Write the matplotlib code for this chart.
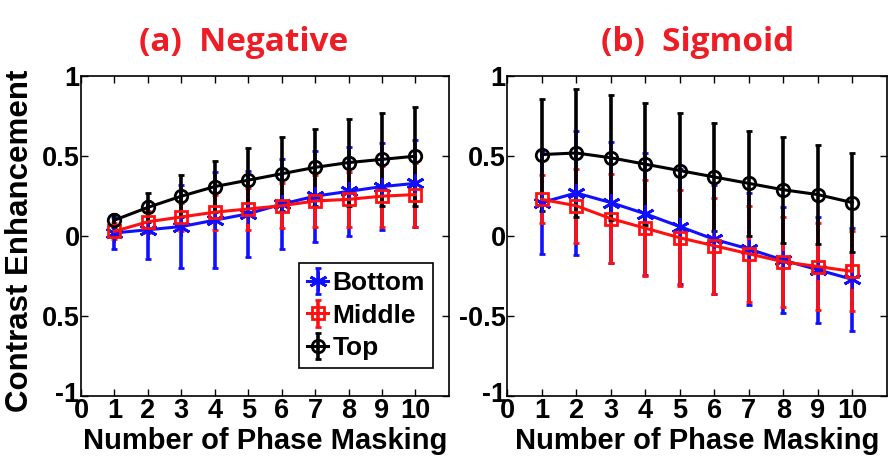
import numpy as np
import matplotlib
matplotlib.use("Agg")
import matplotlib.pyplot as plt
import matplotlib.transforms as mtransforms

# x positions (number of phase masking)
steps = [1, 2, 3, 4, 5, 6, 7, 8, 9, 10]

# (a) Negative
neg_bottom = [0.02, 0.04, 0.06, 0.10, 0.14, 0.20, 0.25, 0.28, 0.31, 0.33]
neg_bottom_err = [0.10, 0.18, 0.26, 0.30, 0.27, 0.28, 0.285, 0.28, 0.27, 0.27]
neg_middle = [0.03, 0.09, 0.12, 0.15, 0.17, 0.19, 0.22, 0.23, 0.25, 0.26]
neg_middle_err = [0.05, 0.07, 0.09, 0.11, 0.13, 0.14, 0.16, 0.17, 0.19, 0.20]
neg_top = [0.10, 0.18, 0.25, 0.31, 0.35, 0.39, 0.43, 0.46, 0.48, 0.50]
neg_top_err = [0.04, 0.09, 0.13, 0.16, 0.20, 0.23, 0.24, 0.27, 0.29, 0.31]

# (b) Sigmoid
sig_bottom = [0.21, 0.27, 0.21, 0.14, 0.06, -0.02, -0.08, -0.15, -0.21, -0.27]
sig_bottom_err = [0.32, 0.39, 0.38, 0.38, 0.36, 0.34, 0.35, 0.33, 0.33, 0.32]
sig_middle = [0.23, 0.19, 0.11, 0.05, -0.01, -0.06, -0.11, -0.16, -0.19, -0.22]
sig_middle_err = [0.15, 0.23, 0.28, 0.30, 0.30, 0.30, 0.30, 0.28, 0.27, 0.25]
sig_top = [0.51, 0.52, 0.49, 0.45, 0.41, 0.37, 0.33, 0.29, 0.26, 0.21]
sig_top_err = [0.35, 0.40, 0.39, 0.38, 0.36, 0.34, 0.33, 0.33, 0.31, 0.31]

series_names = ["Bottom", "Middle", "Top"]
colors = ["#1010ff", "#ff1010", "#000000"]
markers = [(6, 2, 0), "s", "o"]

xticks = [0, 1, 2, 3, 4, 5, 6, 7, 8, 9, 10]
yticks = [-1, -0.5, 0, 0.5, 1]
left_ylabels = ["-1", "0.5", "0", "0.5", "1"]
right_ylabels = ["-1", "-0.5", "0", "0.5", "1"]

plt.rcParams["font.family"] = ["Liberation Sans", "DejaVu Sans"]
plt.rcParams["font.weight"] = "bold"

fig = plt.figure(figsize=(8.93, 4.59), dpi=100)
ax1 = fig.add_axes([0.0907, 0.137, 0.412, 0.697])
ax2 = fig.add_axes([0.568, 0.137, 0.425, 0.697])


def draw_panel(ax, data, ylabels):
    handles = []
    for (vals, errs), c, m in zip(data, colors, markers):
        h = ax.errorbar(steps, vals, yerr=errs, color=c, marker=m,
                        markersize=9 if m != markers[0] else 13,
                        markerfacecolor="none",
                        markeredgewidth=2, linewidth=2.2, elinewidth=2.6,
                        capsize=2, capthick=2)
        handles.append(h)
    ax.set_xlim(0, 11)
    ax.set_ylim(-1, 1)
    ax.set_xticks(xticks)
    ax.set_yticks(yticks)
    ax.set_yticklabels(ylabels)
    ax.tick_params(direction="in", top=True, right=True, length=5, width=1,
                   labelsize=19.5, pad=1)
    for lab in ax.get_xticklabels() + ax.get_yticklabels():
        lab.set_fontweight("bold")
    # the "-1" label sits a little higher so it clears the x "0"
    lab = ax.get_yticklabels()[0]
    lab.set_transform(lab.get_transform() +
                      mtransforms.ScaledTranslation(0, 4 / 100, fig.dpi_scale_trans))
    for sp in ax.spines.values():
        sp.set_linewidth(1.2)
    ax.set_xlabel("Number of Phase Masking", fontsize=21, fontweight="bold")
    ax.xaxis.set_label_coords(0.5, -0.095)
    return handles


h = draw_panel(ax1, [(neg_bottom, neg_bottom_err), (neg_middle, neg_middle_err),
                     (neg_top, neg_top_err)], left_ylabels)
draw_panel(ax2, [(sig_bottom, sig_bottom_err), (sig_middle, sig_middle_err),
                 (sig_top, sig_top_err)], right_ylabels)

ax1.set_ylabel("Contrast Enhancement", fontsize=22.5, fontweight="bold")
ax1.yaxis.set_label_coords(-0.125, 0.484)

leg = ax1.legend(h, series_names, loc="lower right",
                 bbox_to_anchor=(0.956, 0.088),
                 prop={"weight": "bold", "size": 19},
                 handlelength=0.8, handletextpad=0.15, borderpad=0.3,
                 borderaxespad=0, labelspacing=0.32, fancybox=False,
                 framealpha=1, edgecolor="black")
leg.get_frame().set_linewidth(1.2)

fig.text(0.273, 0.908, "(a)  Negative", color="#ee1c24", fontsize=24,
         fontweight="bold", ha="center", va="center",
         family=["Open Sans", "DejaVu Sans"])
fig.text(0.781, 0.908, "(b)  Sigmoid", color="#ee1c24", fontsize=24,
         fontweight="bold", ha="center", va="center",
         family=["Open Sans", "DejaVu Sans"])

fig.savefig("out.png", dpi=100)
